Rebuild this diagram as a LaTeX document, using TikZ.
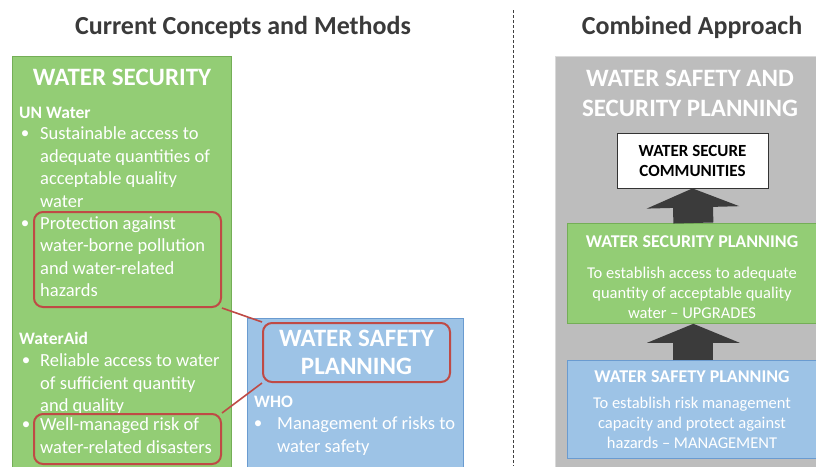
\documentclass[tikz,border=0pt]{standalone}
\usepackage{fontspec}
\setmainfont{Carlito}
\usetikzlibrary{arrows.meta}

\definecolor{secgreen}{HTML}{93CD75}
\definecolor{secgreenline}{HTML}{74AE57}
\definecolor{safeblue}{HTML}{9DC3E6}
\definecolor{safeblueline}{HTML}{6A9BD0}
\definecolor{combgrey}{HTML}{BDBDBD}
\definecolor{hilite}{HTML}{BF4A45}
\definecolor{arrowgrey}{HTML}{3B3B3B}
\definecolor{headgrey}{HTML}{3A3A3A}

\tikzset{
  panel/.style={draw, thick, anchor=north west, inner sep=0pt},
  heading/.style={text=headgrey, font=\fontsize{26}{30}\selectfont\bfseries},
  boxtitle/.style={text=white, align=center, inner sep=0pt, font=\fontsize{25}{28}\selectfont\bfseries},
  subhead/.style={text=white, anchor=west, inner sep=0pt, font=\fontsize{17.5}{20}\selectfont\bfseries},
  bullet/.style={text=white, inner sep=0pt, font=\fontsize{17}{20}\selectfont},
  bodytext/.style={text=white, align=left, anchor=north west, inner sep=0pt, font=\fontsize{18.5}{22.5}\selectfont},
  hilitebox/.style={draw=hilite, line width=2pt, rounded corners=9pt, anchor=north west},
  hiliteline/.style={draw=hilite, line width=1.6pt},
  planbox/.style={draw, thick, anchor=north west, minimum width=252pt},
  plantitle/.style={text=white, inner sep=0pt, font=\fontsize{18}{20}\selectfont\bfseries},
  plantext/.style={text=white, align=center, inner sep=0pt, font=\fontsize{16.5}{20}\selectfont},
  blockarrow/.style={draw=arrowgrey, line width=40pt, -{Triangle[length=19pt, width=92pt]}}
}

\begin{document}
\begin{tikzpicture}[x=1pt, y=-1pt]
    \useasboundingbox[fill=white] (0,0) rectangle (816,466);

    % Column headings
    \node[heading] (curhead) at (243,27) {Current Concepts and Methods};
    \node[heading] (combhead) at (692,27) {Combined Approach};

    % Divider between the two columns
    \draw[densely dashed, thin, black!75] (513,10) -- (513,466);

    % Water security panel
    \node[panel, fill=secgreen, draw=secgreenline, minimum width=219pt, minimum height=420pt] (watsec) at (12,56) {};
    \node[boxtitle] (watsectitle) at (122,77) {WATER SECURITY};

    % UN Water definition
    \node[subhead] (unwater) at (19,113) {UN Water};
    \node[bullet] at (25,135) {•};
    \node[bodytext] (unaccess) at (40,126.5) {Sustainable access to\\adequate quantities of\\acceptable quality\\water};
    \node[bullet] at (25,225) {•};
    \node[bodytext] (unprotect) at (40,216.5) {Protection against\\water-borne pollution\\and water-related\\hazards};

    % WaterAid definition
    \node[subhead] (wateraid) at (19,338) {WaterAid};
    \node[bullet] at (26,362) {•};
    \node[bodytext] (wareliable) at (40,353.5) {Reliable access to water\\of sufficient quantity\\and quality};
    \node[bullet] at (26,426) {•};
    \node[bodytext] (warisk) at (40,417.5) {Well-managed risk of\\water-related disasters};

    % Highlighted statements
    \node[hilitebox, minimum width=187pt, minimum height=95pt] (hazardsbox) at (33,211) {};
    \node[hilitebox, minimum width=187pt, minimum height=50pt] (disasterbox) at (33,413) {};

    % Water safety planning panel
    \node[panel, fill=safeblue, draw=safeblueline, minimum width=216pt, minimum height=150pt] (safety) at (247,318) {};
    \node[boxtitle, draw=hilite, line width=2pt, rounded corners=9pt, minimum width=187pt, minimum height=59pt] (wsptitle) at (356.5,352.5) {WATER SAFETY\\PLANNING};
    \node[subhead] (who) at (254,402) {WHO};
    \node[bullet] at (258,425) {•};
    \node[bodytext] (whorisk) at (277,416.5) {Management of risks to\\water safety};

    % Links from the highlighted statements
    \draw[hiliteline] (hazardsbox.south east) -- (wsptitle.north west);
    \draw[hiliteline] (disasterbox.north east) -- (wsptitle.south west);

    % Combined approach panel
    \node[panel, fill=combgrey, draw=black!15, minimum width=270pt, minimum height=420pt] (combined) at (555,56) {};
    \node[boxtitle, font=\fontsize{25}{30}\selectfont\bfseries] (combtitle) at (690,93) {WATER SAFETY AND\\SECURITY PLANNING};

    % Outcome
    \node[draw=black!80, thick, fill=white, align=center, inner sep=0pt, minimum width=151pt, minimum height=55pt, font=\fontsize{17}{20}\selectfont\bfseries] (wscomm) at (692.5,160.5) {WATER SECURE\\COMMUNITIES};

    % Water security planning layer
    \node[planbox, fill=secgreen, draw=secgreenline, minimum height=100pt] (wsecplan) at (567,223) {};
    \node[plantitle] (wsectitle) at (692,242) {WATER SECURITY PLANNING};
    \node[plantext] (wsectext) at (692,293) {To establish access to adequate\\quantity of acceptable quality\\water -- UPGRADES};

    % Water safety planning layer
    \node[planbox, fill=safeblue, draw=safeblueline, minimum height=98pt] (wsplan) at (567,360) {};
    \node[plantitle] (wsptitle2) at (692,377) {WATER SAFETY PLANNING};
    \node[plantext] (wsptext) at (692,423) {To establish risk management\\capacity and protect against\\hazards -- MANAGEMENT};

    % Block arrows
    \draw[blockarrow] (wsplan.north) -- (wsecplan.south);
    \draw[blockarrow] (wsecplan.north) -- (wscomm.south);
\end{tikzpicture}
\end{document}
